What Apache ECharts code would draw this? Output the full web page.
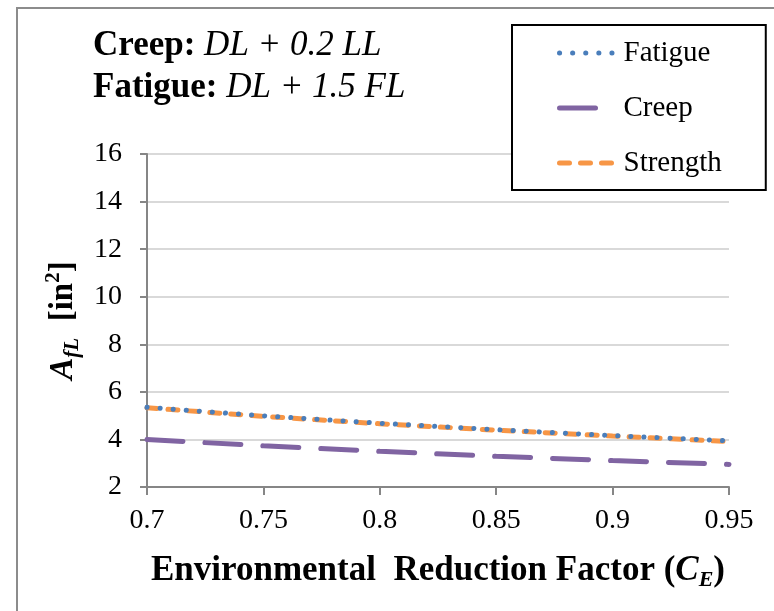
<!DOCTYPE html>
<html>
<head>
<meta charset="utf-8">
<script src="https://cdn.jsdelivr.net/npm/echarts@6/dist/echarts.min.js"></script>
<style>
  html, body { margin: 0; padding: 0; background: #ffffff; }
  #chart { width: 774px; height: 611px; }
</style>
</head>
<body>
<div id="chart"></div>
<script>
// Environmental reduction factor C_E (x) and required FRP area A_fL in in^2 (y)
const ceValues     = [0.70, 0.75, 0.80, 0.85, 0.90, 0.95];
const fatigueArea  = [5.35, 4.99, 4.68, 4.41, 4.16, 3.94];
const creepArea    = [4.00, 3.73, 3.50, 3.29, 3.11, 2.95];
const strengthArea = [5.33, 4.97, 4.66, 4.39, 4.14, 3.91];
const seriesNames  = ['Fatigue', 'Creep', 'Strength'];

// Axis ranges / tick steps
const xMin = 0.7, xMax = 0.95, xStep = 0.05;
const yMin = 2, yMax = 16, yStep = 2;

const serif = '"Liberation Serif", "Times New Roman", serif';

function pairs(xs, ys) { return xs.map((x, i) => [x, ys[i]]); }

const chart = echarts.init(document.getElementById('chart'), null, { renderer: 'canvas' });

chart.setOption({
  animation: false,
  backgroundColor: '#ffffff',
  grid: { left: 147, right: 45, top: 154, bottom: 124, containLabel: false },
  xAxis: {
    type: 'value',
    min: xMin, max: xMax, interval: xStep,
    name: '{b|Environmental  Reduction Factor (}{c|C}{e|E}{b|)}',
    nameLocation: 'middle',
    nameGap: 64,
    nameTextStyle: {
      rich: {
        b: { fontFamily: serif, fontWeight: 'bold', fontSize: 35, lineHeight: 40, color: '#000' },
        c: { fontFamily: serif, fontWeight: 'bold', fontStyle: 'italic', fontSize: 35, lineHeight: 40, color: '#000' },
        e: { fontFamily: serif, fontWeight: 'bold', fontStyle: 'italic', fontSize: 22, lineHeight: 18, verticalAlign: 'bottom', color: '#000' }
      }
    },
    axisLine: { lineStyle: { color: '#868686', width: 2 } },
    axisTick: { show: true, length: 8, lineStyle: { color: '#868686', width: 2 } },
    axisLabel: {
      margin: 20,
      fontFamily: serif, fontSize: 28, color: '#000',
      formatter: v => String(Math.round(v * 100) / 100)
    },
    splitLine: { show: false }
  },
  yAxis: {
    type: 'value',
    min: yMin, max: yMax, interval: yStep,
    name: '{a|A}{s|fL}{b|  [in}{p|2}{b|]}',
    nameLocation: 'middle',
    nameRotate: 90,
    nameGap: 50,
    nameTextStyle: {
      rich: {
        a: { fontFamily: serif, fontWeight: 'bold', fontStyle: 'italic', fontSize: 33, lineHeight: 40, color: '#000' },
        s: { fontFamily: serif, fontWeight: 'bold', fontStyle: 'italic', fontSize: 21, lineHeight: 18, verticalAlign: 'bottom', color: '#000' },
        b: { fontFamily: serif, fontWeight: 'bold', fontSize: 33, lineHeight: 40, color: '#000' },
        p: { fontFamily: serif, fontWeight: 'bold', fontSize: 21, lineHeight: 18, verticalAlign: 'top', color: '#000' }
      }
    },
    axisLine: { show: true, lineStyle: { color: '#868686', width: 2 } },
    axisTick: { show: true, length: 7, lineStyle: { color: '#868686', width: 2 } },
    axisLabel: { margin: 25, fontFamily: serif, fontSize: 28, color: '#000' },
    splitLine: { show: true, lineStyle: { color: '#d9d9d9', width: 2 } }
  },
  legend: {
    orient: 'vertical',
    left: 512, top: 25,
    padding: [13, 44, 12, 45],
    itemGap: 25,
    itemWidth: 56, itemHeight: 14,
    backgroundColor: '#ffffff',
    borderColor: '#000000', borderWidth: 2,
    itemStyle: { color: 'rgba(0,0,0,0)', borderColor: 'rgba(0,0,0,0)', borderWidth: 0 },
    lineStyle: { width: 'inherit' },
    textStyle: { fontFamily: serif, fontSize: 29, color: '#000', lineHeight: 30, padding: [0, 0, 0, 3] },
    data: seriesNames
  },
  graphic: [
    {
      type: 'rect', silent: true, z: -10,
      shape: { x: 17, y: 8, width: 800, height: 700 },
      style: { fill: 'none', stroke: '#8c8c8c', lineWidth: 2 }
    },
    {
      type: 'text', left: 93, top: 28,
      style: {
        text: '{b|Creep:}{i| DL + 0.2 LL}\n{b|Fatigue:}{i| DL + 1.5 FL}',
        rich: {
          b: { fontFamily: serif, fontWeight: 'bold', fontSize: 35, lineHeight: 42, fill: '#000' },
          i: { fontFamily: serif, fontStyle: 'italic', fontSize: 35, lineHeight: 42, fill: '#000' }
        }
      }
    }
  ],
  series: [
    {
      name: seriesNames[0], type: 'line', symbol: 'none', z: 4,
      data: pairs(ceValues, fatigueArea),
      lineStyle: { color: '#4a7ebb', width: 5, type: [0.1, 13], cap: 'round' },
      itemStyle: { color: '#4a7ebb' }
    },
    {
      name: seriesNames[1], type: 'line', symbol: 'none', z: 2,
      data: pairs(ceValues, creepArea),
      lineStyle: { color: '#8064a2', width: 5, type: [36, 22], cap: 'round' },
      itemStyle: { color: '#8064a2' }
    },
    {
      name: seriesNames[2], type: 'line', symbol: 'none', z: 3,
      data: pairs(ceValues, strengthArea),
      lineStyle: { color: '#f79646', width: 5, type: [10, 11], cap: 'round' },
      itemStyle: { color: '#f79646' }
    }
  ]
});
</script>
</body>
</html>
